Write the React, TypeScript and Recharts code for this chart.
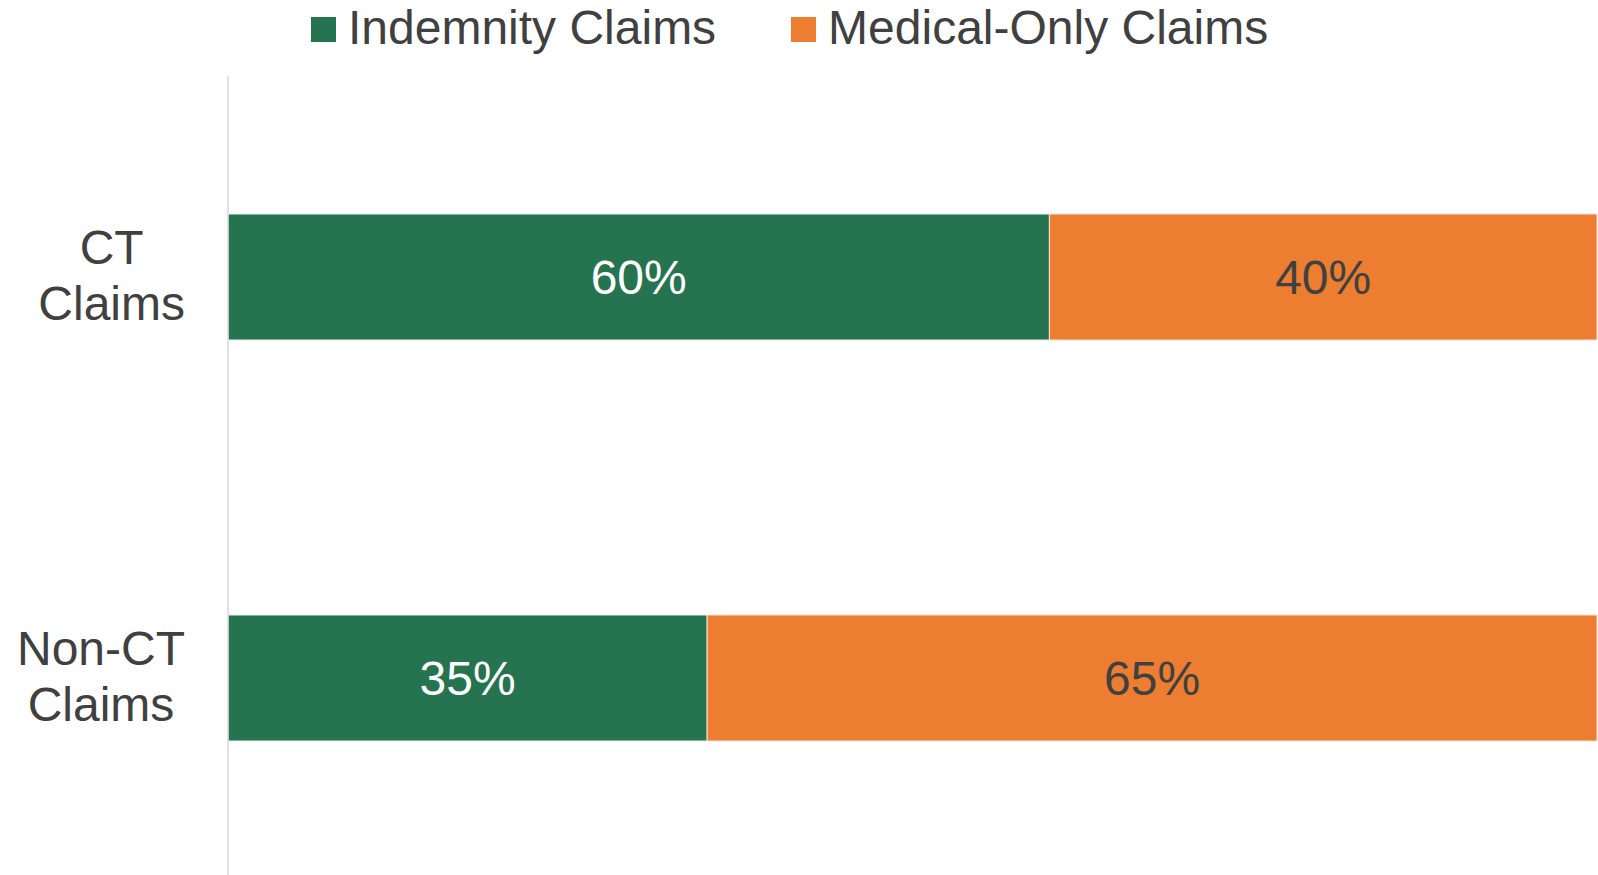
import React from 'react';
import { BarChart, Bar, XAxis, YAxis, Legend, LabelList } from 'recharts';

const categories = ['CT\nClaims', 'Non-CT\nClaims'];
const indemnityValues = [60, 35];
const medicalOnlyValues = [40, 65];
const seriesNames = ['Indemnity Claims', 'Medical-Only Claims'];
const seriesColors = ['#26734F', '#ED7D31'];
const labelColors = ['#FFFFFF', '#404040'];

const data = categories.map((c, i) => ({
  category: c,
  indemnity: indemnityValues[i],
  medical: medicalOnlyValues[i],
}));

const FONT = '"Liberation Sans", Arial, sans-serif';
const TEXT = '#404040';
const FS = 48;

let ctx: CanvasRenderingContext2D | null = null;
const measure = (s: string) => {
  if (!ctx) {
    const c = document.createElement('canvas');
    ctx = c.getContext('2d');
  }
  if (!ctx) return s.length * 25;
  ctx.font = `${FS}px "Liberation Sans", Arial, sans-serif`;
  return ctx.measureText(s).width;
};

const CategoryTick = (props: any) => {
  const { x, y, payload } = props;
  const lines = String(payload.value).split('\n');
  const maxW = Math.max(...lines.map(measure));
  const cx = x - 43 - maxW / 2;
  return (
    <text x={cx} y={y - 13} textAnchor="middle" fill={TEXT} fontSize={FS} fontFamily={FONT}>
      {lines.map((l, i) => (
        <tspan key={i} x={cx} dy={i === 0 ? 0 : 56}>
          {l}
        </tspan>
      ))}
    </text>
  );
};

const LegendContent = () => (
  <div
    style={{
      display: 'flex',
      alignItems: 'flex-start',
      paddingLeft: 311,
      paddingTop: 4,
      height: 56,
      fontFamily: FONT,
      fontSize: FS,
      lineHeight: `${FS}px`,
      color: TEXT,
      whiteSpace: 'nowrap',
    }}
  >
    {seriesNames.map((n, i) => (
      <div key={n} style={{ display: 'flex', alignItems: 'flex-start', marginRight: i === 0 ? 75 : 0 }}>
        <div style={{ width: 25, height: 25, marginTop: 13, marginRight: 12, background: seriesColors[i] }} />
        <span>{n}</span>
      </div>
    ))}
  </div>
);

export default function App() {
  return (
    <div style={{ position: 'absolute', left: 0, top: 0, width: 1598, height: 875, overflow: 'hidden', background: '#fff' }}>
      <BarChart
        width={1598}
        height={878}
        data={data}
        layout="vertical"
        margin={{ top: 16, right: 1, left: 0, bottom: 0 }}
      >
        <XAxis type="number" domain={[0, 100]} hide />
        <YAxis
          type="category"
          dataKey="category"
          width={228}
          tickLine={false}
          tickSize={0}
          tickMargin={0}
          axisLine={{ stroke: '#D9D9D9', strokeWidth: 1.5 }}
          tick={<CategoryTick />}
        />
        <Legend
          verticalAlign="top"
          content={<LegendContent />}
          wrapperStyle={{ top: 0, left: 0, width: 1598, height: 60 }}
        />
        <Bar
          dataKey="indemnity"
          name={seriesNames[0]}
          stackId="a"
          fill={seriesColors[0]}
          stroke="#E8F0EC"
          strokeWidth={1}
          barSize={126}
          isAnimationActive={false}
        >
          <LabelList
            dataKey="indemnity"
            position="center"
            fill={labelColors[0]}
            fontSize={FS}
            fontFamily={FONT}
            formatter={(v: any) => `${v}%`}
          />
        </Bar>
        <Bar
          dataKey="medical"
          name={seriesNames[1]}
          stackId="a"
          fill={seriesColors[1]}
          stroke="#F6E3D6"
          strokeWidth={1}
          barSize={126}
          isAnimationActive={false}
        >
          <LabelList
            dataKey="medical"
            position="center"
            fill={labelColors[1]}
            fontSize={FS}
            fontFamily={FONT}
            formatter={(v: any) => `${v}%`}
          />
        </Bar>
      </BarChart>
    </div>
  );
}
